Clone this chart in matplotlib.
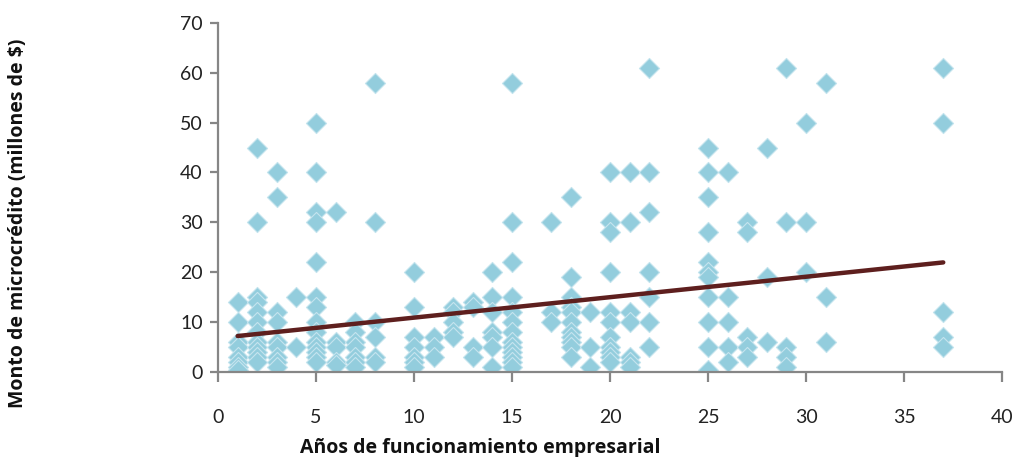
import numpy as np
import matplotlib
matplotlib.use("Agg")
import matplotlib.pyplot as plt

# Years of operation and the microcredit amounts (millions of $) observed at each
years = [1, 2, 3, 4, 5, 6, 7, 8, 10, 11, 12, 13, 14, 15, 17, 18, 19, 20,
         21, 22, 25, 26, 27, 28, 29, 30, 31, 37]
amounts = [
    [14, 10, 6, 5, 3, 2, 1, 0.5],
    [45, 30, 15, 14, 12, 10, 8, 6, 5, 4, 3, 2],
    [40, 35, 12, 10, 6, 5, 3, 2, 1],
    [15, 5],
    [50, 40, 32, 30, 22, 15, 13, 10, 8, 6, 5, 4, 3, 2],
    [32, 6, 5, 2, 1.5],
    [10, 8, 6, 5, 3, 2, 1],
    [58, 30, 10, 7, 3, 2],
    [20, 13, 7, 5, 3, 2, 1],
    [7, 5, 3],
    [13, 12, 10, 8, 7],
    [14, 13, 5, 3],
    [20, 15, 12, 8, 7, 5, 1],
    [58, 30, 22, 15, 12, 10, 8, 6, 5, 4, 3, 2, 1],
    [30, 12, 10],
    [35, 19, 15, 13, 12, 10, 8, 7, 6, 5, 3],
    [12, 5, 1],
    [40, 30, 28, 20, 12, 10, 7, 5, 4, 3, 2],
    [40, 30, 12, 10, 3, 2, 1],
    [61, 40, 32, 20, 15, 10, 5],
    [45, 40, 35, 28, 22, 20, 19, 15, 10, 5, 0.5],
    [40, 15, 10, 5, 2],
    [30, 28, 7, 5, 3],
    [45, 19, 6],
    [61, 30, 5, 3, 1],
    [50, 30, 20],
    [58, 15, 6],
    [61, 50, 12, 7, 5],
]
# Linear trend reported for the full sample (amount = intercept + slope * years)
trend_intercept = 6.8
trend_slope = 0.41

x_ticks = [0, 5, 10, 15, 20, 25, 30, 35, 40]
y_ticks = [0, 10, 20, 30, 40, 50, 60, 70]

xs = np.concatenate([[yr] * len(v) for yr, v in zip(years, amounts)]).astype(float)
ys = np.concatenate([np.asarray(v, dtype=float) for v in amounts])

plt.rcParams["font.family"] = ["Lato", "DejaVu Sans"]

fig = plt.figure(figsize=(10.17, 4.57), dpi=100)
ax = fig.add_axes([0.2144, 0.186, 0.7709, 0.764])

ax.scatter(xs, ys, marker="D", s=105, facecolor="#93CDDD",
           edgecolor="#C5E4EE", linewidth=0.8, zorder=2)

tx = np.array([xs.min(), xs.max()])
ax.plot(tx, trend_intercept + trend_slope * tx, color="#5E1F1E", linewidth=3.2,
        solid_capstyle="round", zorder=3)

ax.set_xlim(0, 40)
ax.set_ylim(0, 70)
ax.set_xticks(x_ticks)
ax.set_yticks(y_ticks)

axis_grey = "#868686"
for side in ("top", "right"):
    ax.spines[side].set_visible(False)
for side in ("left", "bottom"):
    ax.spines[side].set_color(axis_grey)
    ax.spines[side].set_linewidth(1.6)

ax.tick_params(axis="y", direction="out", length=6, width=1.6, color=axis_grey,
               labelsize=14, labelcolor="#222222", pad=5)
ax.tick_params(axis="x", direction="out", length=7, width=1.6, color=axis_grey,
               labelsize=14, labelcolor="#222222", pad=20)

label_font = dict(family=["Open Sans", "DejaVu Sans"], fontsize=14,
                  fontweight="bold", color="#111111")
ax.set_xlabel("Años de funcionamiento empresarial", **label_font)
ax.set_ylabel("Monto de microcrédito (millones de $)", **label_font)
ax.xaxis.set_label_coords(0.335, -0.19)
ax.yaxis.set_label_coords(-0.243, 0.425)

fig.savefig("out.png", dpi=100)
